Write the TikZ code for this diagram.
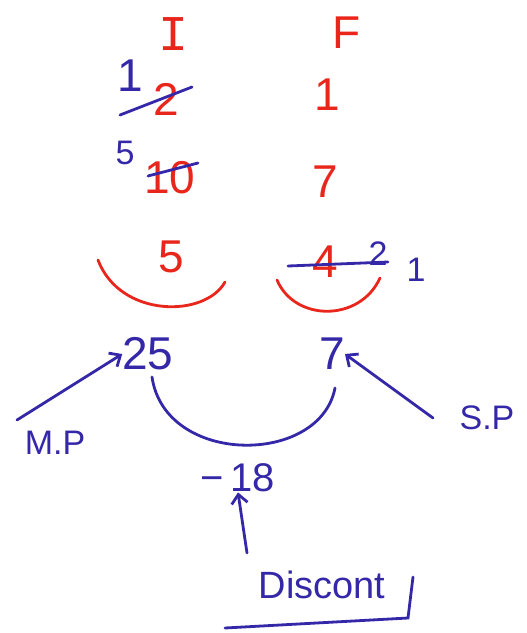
\documentclass[tikz,border=0pt]{standalone}
\usepackage{fontspec}
\setmainfont{Liberation Sans}
\newfontfamily\slabfont{Liberation Mono}
\usetikzlibrary{arrows.meta}
\definecolor{pen red}{RGB}{232,38,28}
\definecolor{pen blue}{RGB}{52,40,168}
\tikzset{
  redtxt/.style={text=pen red,font=\fontsize{46}{50}\selectfont,inner sep=0pt},
  bluetxt/.style={text=pen blue,font=\fontsize{46}{50}\selectfont,inner sep=0pt},
  bluesmall/.style={text=pen blue,font=\fontsize{34}{38}\selectfont,inner sep=0pt},
  redline/.style={draw=pen red,line width=2.8pt,line cap=round},
  blueline/.style={draw=pen blue,line width=2.8pt,line cap=round},
  bluearrow/.style={blueline,-{Straight Barb[length=9pt,width=16pt,line width=2.8pt]}}
}
\begin{document}
\begin{tikzpicture}[x=1pt,y=-1pt]
\useasboundingbox (0,0) rectangle (527,633);
% headings
\node[redtxt,font=\slabfont\fontsize{50}{54}\selectfont] (hI) at (174,34) {I};
\node[redtxt] (hF) at (347,33) {F};
% row 1
\node[redtxt] (r2) at (166,99) {2};
\node[bluetxt] (b1) at (130,76) {1};
\coordinate (s1a) at (120,115);
\coordinate (s1b) at (192,87);
\draw[blueline] (s1a) -- (s1b);
\node[redtxt] (f1) at (327,95) {1};
% row 2
\node[bluesmall] (b5) at (125,153) {5};
\node[redtxt] (r10) at (170,178) {10};
\coordinate (s2a) at (148,176);
\coordinate (s2b) at (198,163);
\draw[blueline] (s2a) -- (s2b);
\node[redtxt] (f7) at (325,182) {7};
% row 3
\node[redtxt] (r5) at (171,257) {5};
\coordinate (la) at (98,260);
\coordinate (lb) at (225,282);
\draw[redline] (la) .. controls (120,318) and (205,318) .. (lb);
\node[redtxt] (r4) at (325,262) {4};
\node[bluesmall] (b2) at (378,254) {2};
\coordinate (s3a) at (288,266);
\coordinate (s3b) at (388,262);
\draw[blueline] (s3a) -- (s3b);
\node[bluesmall] (b1b) at (416,270) {1};
\coordinate (ra) at (277,280);
\coordinate (rb) at (380,278);
\draw[redline] (ra) .. controls (295,322) and (360,322) .. (rb);
% bottom
\node[bluetxt] (n25) at (148,354) {25};
\node[bluetxt] (n7) at (332,354) {7};
\coordinate (ba) at (152,377);
\coordinate (bb) at (335,388);
\draw[blueline] (ba) .. controls (165,466) and (320,466) .. (bb);
\node[bluesmall] (mp) at (55,443) {M.P};
\node[bluesmall] (sp) at (487,418) {S.P};
\coordinate (mpt) at (17,420);
\coordinate (spt) at (433,418);
\draw[bluearrow] (mpt) -- (n25.west);
\draw[bluearrow] (spt) -- (n7.east);
\node[bluetxt,font=\fontsize{40}{44}\selectfont] (d18) at (238,478) {−\,18};
\node[bluetxt,font=\fontsize{38}{42}\selectfont] (disc) at (322,585) {Discont};
\coordinate (arrt) at (247,553);
\draw[bluearrow] (arrt) -- (d18.south);
\coordinate (ua) at (225,628);
\coordinate (ub) at (408,618);
\coordinate (uc) at (413,577);
\draw[blueline] (ua) -- (ub) -- (uc);
\end{tikzpicture}
\end{document}
